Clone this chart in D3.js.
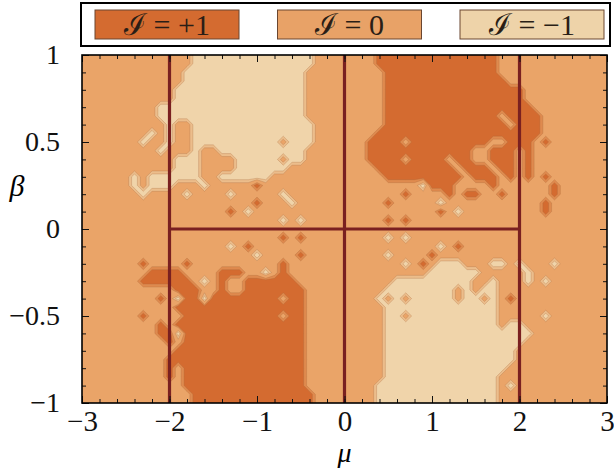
<!DOCTYPE html>
<html>
<head>
<meta charset="utf-8">
<script src="https://cdn.jsdelivr.net/npm/d3@7"></script>
<style>
  body { margin: 0; background: #fff; }
  text { font-family: "Liberation Serif", "DejaVu Serif", serif; }
</style>
</head>
<body>
<script>
// axes
const muRange = [-3, 3];
const betaRange = [-1, 1];
const muTicks = [-3, -2, -1, 0, 1, 2, 3];
const betaTicks = [-1, -0.5, 0, 0.5, 1];

// legend
const legendLabels = ["ℐ = +1", "ℐ = 0", "ℐ = −1"];
const legendValues = [1, 0, -1];

// dividing lines (mu positions of the verticals, ends of the horizontal)
const dividersMu = [-2, 0, 2];
const dividerBeta = [[-2, 0], [2, 0]];

// index map, one row per beta (1 -> -1, step 0.05),
// 61 columns per row (mu -3 -> 3, step 0.1), run-length coded:
// "+" = +1, "." = 0, "-" = -1
const regionRows = [
  "13. 14- 7. 14+ 13.",
  "13. 14- 7. 14+ 13.",
  "12. 14- 9. 13+ 13.",
  "12. 14- 9. 14+ 12.",
  "11. 15- 9. 16+ 10.",
  "11. 15- 9. 16+ 10.",
  "9. 17- 9. 17+ 9.",
  "9. 17- 9. 13+ 1. 4+ 8.",
  "10. 1- 2. 14- 8. 14+ 1. 3+ 8.",
  "8. 1- 1. 1- 2. 14- 7. 19+ 8.",
  "7. 1- 2. 1- 2. 10- 1. 3- 6. 4+ 1. 9+ 2. 3+ 1. 1+ 7.",
  "9. 1- 3. 1- 2. 10- 7. 12+ 2. 3+ 1. 1+ 9.",
  "11. 3- 4. 5- 1. 2- 7. 4+ 1. 4+ 1. 2+ 2. 3+ 1. 1+ 9.",
  "11. 3- 4. 6- 10. 9+ 1. 3+ 1. 2+ 1. 1+ 9.",
  "6. 1- 1. 6- 2. 6- 13. 9+ 1. 3+ 1. 1+ 1. 1+ 1. 1+ 7.",
  "6. 1- 1. 3- 3. 1- 5. 1+ 18. 1- 3+ 4. 1+ 6. 1+ 6.",
  "7. 1- 4. 1- 4. 1- 5. 1- 13. 1+ 4. 1+ 1. 2+ 2. 1+ 5. 1+ 6.",
  "20. 1+ 3. 1- 10. 1+ 5. 1- 11. 1+ 7.",
  "17. 1+ 1. 1- 21. 1+ 1. 1- 9. 1+ 7.",
  "23. 1- 1. 1- 9. 1+ 1. 1+ 23.",
  "61.",
  "23. 1+ 1. 1+ 9. 1- 1. 1- 23.",
  "17. 1- 1. 1+ 21. 1- 1. 1+ 17.",
  "20. 1- 4. 1+ 9. 1- 4. 1+ 20.",
  "7. 1+ 4. 1+ 10. 1+ 13. 1- 1. 1+ 1. 3- 3. 2- 1. 1- 3. 1- 6.",
  "8. 4+ 4. 3+ 2. 1- 1. 1+ 16. 6- 5. 1- 9.",
  "7. 6+ 1. 1- 1. 1+ 2. 6+ 11. 9- 2. 1- 3. 1- 1. 1- 7.",
  "11. 3+ 2. 1+ 2. 7+ 9. 8- 1. 1- 1. 2- 13.",
  "9. 1+ 1. 1- 2+ 1- 8+ 1. 2+ 8. 1- 1. 1- 1. 5- 1. 2- 1. 1- 1. 1+ 11.",
  "11. 15+ 9. 13- 13.",
  "7. 1+ 4. 11+ 1. 2+ 9. 2- 1. 10- 5. 1- 7.",
  "9. 1+ 1. 15+ 9. 13- 1. 2- 10.",
  "9. 2+ 1- 14+ 9. 17- 9.",
  "10. 1+ 1. 14+ 9. 16- 10.",
  "11. 15+ 9. 15- 11.",
  "10. 16+ 9. 15- 11.",
  "10. 1+ 1. 14+ 9. 14- 12.",
  "10. 1+ 1. 14+ 9. 13- 13.",
  "12. 14+ 8. 14- 1. 1- 11.",
  "13. 14+ 7. 14- 13.",
  "13. 14+ 7. 14- 13."
];

const W = 614, H = 468;
const plot = { left: 82, right: 607, top: 55, bottom: 403 };

const levelThresholds = [-2, -0.67, -0.33, 0.33, 0.67];
const levelColors = ["#f0d4aa", "#ecbd8b", "#eaa468", "#df8a4e", "#d46b30"];
const swatchColor = { "1": "#d46b30", "0": "#e8a267", "-1": "#eed3a9" };
const serif = "Liberation Serif, DejaVu Serif, serif";

const x = d3.scaleLinear().domain(muRange).range([plot.left, plot.right]);
const y = d3.scaleLinear().domain(betaRange).range([plot.bottom, plot.top]);

const svg = d3.select("body").append("svg")
  .attr("width", W)
  .attr("height", H);

// decode the map
const nCols = 61, nRows = regionRows.length;
const codeValue = { "+": 1, ".": 0, "-": -1 };
const values = [];
regionRows.forEach((row) => {
  let s = "";
  row.split(" ").forEach((tok) => {
    s += tok.slice(-1).repeat(+tok.slice(0, -1));
  });
  s = s.padEnd(nCols, ".").slice(0, nCols);
  for (const ch of s) values.push(codeValue[ch]);
});

const muStep = (muRange[1] - muRange[0]) / (nCols - 1);
const betaStep = (betaRange[1] - betaRange[0]) / (nRows - 1);

const proj = d3.geoTransform({
  point(u, v) {
    this.stream.point(
      x(muRange[0] + (u - 0.5) * muStep),
      y(betaRange[1] - (v - 0.5) * betaStep)
    );
  }
});
const path = d3.geoPath(proj);

const contours = d3.contours()
  .size([nCols, nRows])
  .thresholds(levelThresholds)(values);

svg.append("clipPath").attr("id", "clip")
  .append("rect")
  .attr("x", plot.left).attr("y", plot.top)
  .attr("width", plot.right - plot.left)
  .attr("height", plot.bottom - plot.top);

svg.append("g")
  .attr("clip-path", "url(#clip)")
  .selectAll("path")
  .data(contours)
  .join("path")
  .attr("d", path)
  .attr("fill", (d, i) => levelColors[i])
  .attr("stroke", (d, i) => (i === 0 ? "none" : "#a4653a"))
  .attr("stroke-opacity", 0.35)
  .attr("stroke-width", 0.8)
  .attr("stroke-linejoin", "round");

// dividing lines
const lines = svg.append("g")
  .attr("stroke", "#7a2020")
  .attr("stroke-width", 3.2);

lines.selectAll("line.v")
  .data(dividersMu)
  .join("line")
  .attr("class", "v")
  .attr("x1", (d) => x(d)).attr("x2", (d) => x(d))
  .attr("y1", y(betaRange[0])).attr("y2", y(betaRange[1]));

lines.append("line")
  .attr("x1", x(dividerBeta[0][0])).attr("y1", y(dividerBeta[0][1]))
  .attr("x2", x(dividerBeta[1][0])).attr("y2", y(dividerBeta[1][1]));

// ticks (inward, all four sides)
function styleAxis(g, size) {
  g.select(".domain").remove();
  g.attr("font-size", size).attr("font-family", serif);
  g.selectAll("text").attr("fill", "#111").style("font-size", size + "px");
  g.selectAll("line").attr("stroke", "#111").attr("stroke-width", 1);
}

svg.append("g")
  .attr("transform", `translate(0,${plot.bottom})`)
  .call(d3.axisBottom(x).ticks(30).tickSize(-4).tickFormat(""))
  .call((g) => styleAxis(g, 10));
svg.append("g")
  .attr("transform", `translate(0,${plot.bottom})`)
  .call(d3.axisBottom(x).tickValues(muTicks).tickSize(-7).tickPadding(7)
    .tickFormat(d3.format("d")))
  .call((g) => styleAxis(g, 29));

svg.append("g")
  .attr("transform", `translate(0,${plot.top})`)
  .call(d3.axisTop(x).ticks(30).tickSize(-4).tickFormat(""))
  .call((g) => styleAxis(g, 10));
svg.append("g")
  .attr("transform", `translate(0,${plot.top})`)
  .call(d3.axisTop(x).tickValues(muTicks).tickSize(-7).tickFormat(""))
  .call((g) => styleAxis(g, 10));

svg.append("g")
  .attr("transform", `translate(${plot.left},0)`)
  .call(d3.axisLeft(y).ticks(20).tickSize(-4).tickFormat(""))
  .call((g) => styleAxis(g, 10));
svg.append("g")
  .attr("transform", `translate(${plot.left},0)`)
  .call(d3.axisLeft(y).tickValues(betaTicks).tickSize(-7).tickPadding(22)
    .tickFormat(d3.format("~g")))
  .call((g) => styleAxis(g, 28));

svg.append("g")
  .attr("transform", `translate(${plot.right},0)`)
  .call(d3.axisRight(y).ticks(20).tickSize(-4).tickFormat(""))
  .call((g) => styleAxis(g, 10));
svg.append("g")
  .attr("transform", `translate(${plot.right},0)`)
  .call(d3.axisRight(y).tickValues(betaTicks).tickSize(-7).tickFormat(""))
  .call((g) => styleAxis(g, 10));

// frame
svg.append("rect")
  .attr("x", plot.left).attr("y", plot.top)
  .attr("width", plot.right - plot.left)
  .attr("height", plot.bottom - plot.top)
  .attr("fill", "none")
  .attr("stroke", "#000")
  .attr("stroke-width", 1.6);

// axis titles
svg.append("text")
  .attr("x", x(0)).attr("y", 462)
  .attr("text-anchor", "middle")
  .style("font-size", "28px")
  .attr("font-style", "italic")
  .text("μ");

svg.append("text")
  .attr("x", 17).attr("y", 196)
  .attr("text-anchor", "middle")
  .style("font-size", "30px")
  .attr("font-style", "italic")
  .text("β");

// legend
const legend = svg.append("g");
legend.append("rect")
  .attr("x", 81).attr("y", 3)
  .attr("width", 529).attr("height", 43)
  .attr("fill", "#fff")
  .attr("stroke", "#000")
  .attr("stroke-width", 2);

const lx = d3.scalePoint().domain(legendValues).range([167, 532]);
const swW = 144, swH = 29, swY = 10;

const item = legend.selectAll("g.item")
  .data(legendValues)
  .join("g")
  .attr("class", "item");

item.append("rect")
  .attr("x", (d) => lx(d) - swW / 2)
  .attr("y", swY)
  .attr("width", swW)
  .attr("height", swH)
  .attr("fill", (d) => swatchColor[d])
  .attr("stroke", "#6a4630")
  .attr("stroke-width", 1);

item.append("text")
  .attr("x", (d) => lx(d))
  .attr("y", swY + swH / 2)
  .attr("dy", "0.36em")
  .attr("text-anchor", "middle")
  .style("font-size", "30px")
  .attr("fill", "#2a1e16")
  .text((d, i) => legendLabels[i]);
</script>
</body>
</html>
